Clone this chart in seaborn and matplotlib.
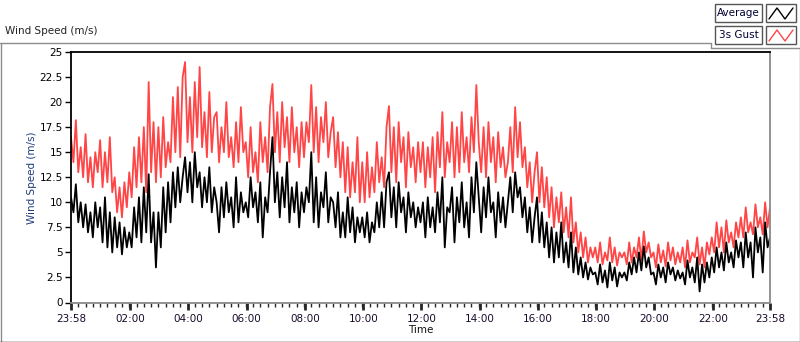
import numpy as np
import pandas as pd
import matplotlib
matplotlib.use('Agg')
import matplotlib.pyplot as plt
from matplotlib.lines import Line2D
from matplotlib.patches import Rectangle
from matplotlib.ticker import FuncFormatter
import seaborn as sns

# 5-minute samples, starting at 23:58 (one row per hour)
gust = [
    16.5, 14, 18.2, 13, 15.5, 12.5, 16.8, 12, 14.5, 11.5, 15, 13,
    16.2, 11.5, 15, 12, 16.5, 11, 12.5, 9, 11.5, 8.5, 12, 9.5,
    13, 10.5, 15.5, 11.5, 16.5, 12, 17.5, 11, 22, 13, 18, 12,
    17.5, 12.5, 18.5, 13.5, 16, 14, 20.5, 15, 21.5, 14.5, 22.5, 24,
    16, 20.5, 15, 22, 16.5, 23.5, 15.5, 19, 14.5, 21, 15, 18.5,
    19, 14, 17.5, 15, 20, 14.5, 16.5, 13.5, 18, 14, 19.5, 15,
    16, 12.5, 17.5, 13, 15, 12, 18, 14, 16.5, 13, 19.5, 21.8,
    15, 19, 14, 20, 15.5, 18.5, 14, 19.5, 15, 17.5, 13.5, 18,
    14.5, 18, 16, 21.7, 15, 19.5, 14, 18.5, 16, 20, 14.5, 17,
    18.5, 13.5, 17, 12.5, 16, 11, 15.5, 10.5, 14, 11, 16.5, 10,
    14, 10, 15, 10.5, 13.5, 11, 16, 12, 14.5, 11.5, 17.5, 19.6,
    13, 17.5, 12, 18, 14, 16.5, 11.5, 17, 13.5, 15.5, 12, 16,
    13, 16, 11.5, 15.5, 12.5, 16.5, 11, 17, 13.5, 19, 12.5, 16,
    14, 18, 12.5, 17.5, 13, 19, 14, 16.5, 13, 18.5, 15, 21.7,
    16, 13, 17.5, 12.5, 18, 14, 16.5, 12, 17, 13.5, 15.5, 12.5,
    14, 17.5, 13, 19.5, 14.5, 18, 13.5, 15.5, 11.5, 14, 10, 13,
    15, 10, 13.5, 9.5, 12.5, 8.5, 11.5, 7.5, 10.5, 8, 11, 7,
    9.5, 6.5, 10.5, 6, 8, 5, 7, 4.5, 6.5, 4, 5.5, 4.5,
    5.5, 4, 6, 3.8, 5, 4.2, 6.5, 4, 5.5, 3.7, 5, 4.5,
    5, 3.8, 6, 4, 5.5, 4.5, 6.5, 4.2, 7.1, 5, 6, 4.5,
    5, 3.5, 5.8, 4, 5.2, 3.6, 6, 4.2, 5.5, 3.8, 5, 4,
    5.5, 3.5, 6.2, 4, 5, 4.5, 6.5, 3.8, 5.5, 3.5, 6, 4.8,
    6.5, 5, 8, 5.5, 7.5, 5, 8.2, 6, 7, 5.5, 8, 6.5,
    8.5, 6.5, 9.5, 7, 8, 6.8, 9.8, 7.5, 8.5, 6.8, 10, 7.5,
    9.5,
]
average = [
    10.5, 9, 11.8, 8, 10, 7.5, 9.8, 7, 9, 6.5, 10, 7.5,
    9.5, 6, 10.5, 5.5, 9, 5, 8.5, 5.5, 8, 4.8, 7.5, 5.5,
    7, 5.5, 9.5, 6.5, 10.5, 6, 11.5, 7, 12.8, 6, 9, 3.5,
    9, 5.5, 11.5, 7, 12, 8, 13, 9.5, 13.5, 10, 12.5, 14.5,
    11, 14, 10, 15, 11.5, 13, 9.5, 12.5, 10, 13.5, 9, 11.5,
    10, 7, 11.5, 8.5, 12, 9, 10.5, 7.5, 12.5, 8, 11, 9,
    10, 8.5, 12.5, 9.5, 11, 8, 12, 6.5, 10.5, 9, 13, 16.5,
    10, 13, 8.5, 12.5, 9.5, 14, 8, 11.5, 9, 12, 7.5, 11,
    9, 11.5, 10, 15, 8, 12.5, 7.5, 11, 9.5, 13, 8, 10.5,
    10, 7.5, 11, 6.5, 9, 6.5, 10.5, 7, 9.5, 6, 8.5, 7,
    8.5, 6.5, 9, 6, 8, 7, 10, 7.5, 11, 7.5, 12, 13,
    8.5, 11.5, 7.5, 12, 9, 10.5, 7, 11, 8.5, 10, 7.5, 9.5,
    8, 10, 6.5, 10.5, 7.5, 9.5, 7, 11, 8, 12.5, 5.5, 9.5,
    9, 11.5, 6, 10.5, 8, 12, 7.5, 10, 6.5, 12.5, 9, 14,
    10.5, 7, 11.5, 8.5, 12.5, 9, 10, 6.5, 11, 8, 10.5, 7.5,
    10, 12.5, 9, 13, 10.5, 11.5, 8.5, 10.5, 7, 9.5, 6, 8.5,
    10.5, 6, 9, 5.5, 8, 4.5, 7.5, 4, 7, 4.5, 8, 4,
    6, 3.5, 7, 3, 5.5, 2.8, 4.5, 2.5, 4, 2.3, 3.5, 2.8,
    3, 1.8, 3.8, 2, 3.2, 1.5, 4, 2.2, 3.5, 1.6, 3, 2.5,
    3, 2.2, 4, 2.8, 4.5, 3, 5, 3.2, 5.6, 3.5, 4.5, 2.8,
    3, 1.8, 3.8, 2.5, 3.5, 2, 4, 2.8, 3.5, 2.2, 3.2, 2.4,
    3, 1.8, 4.2, 2.5, 3.5, 2, 4.5, 1.1, 3.8, 2, 4, 2.5,
    4.5, 3, 5.5, 3.5, 5, 3.2, 6, 4, 5, 3.5, 6.2, 4.5,
    6, 3.5, 7, 4.5, 6, 2.5, 7.5, 5, 6.5, 3, 8, 5.5,
    6.5,
]
series_names = ['3s Gust', 'Average']
series_colors = {'3s Gust': '#ff4545', 'Average': 'black'}
y_ticks = [0, 2.5, 5, 7.5, 10, 12.5, 15, 17.5, 20, 22.5, 25]

start = pd.Timestamp('2024-01-01 23:58')
times = pd.date_range(start, periods=len(gust), freq='5min')
end = times[-1]

df = pd.DataFrame({
    'Time': list(times) * 2,
    'Speed': gust + average,
    'Series': ['3s Gust'] * len(gust) + ['Average'] * len(average),
})

sns.set_style('white')
plt.rcParams['font.family'] = ['DejaVu Sans']
plt.rcParams['font.size'] = 7.5

W, H = 800, 342
fig = plt.figure(figsize=(W / 100, H / 100), dpi=100)
ax = fig.add_axes([71 / W, 1 - 302.5 / H, 699 / W, 250.5 / H])

sns.lineplot(data=df, x='Time', y='Speed', hue='Series', hue_order=series_names,
             palette=series_colors, linewidth=1.3, estimator=None, legend=False, ax=ax)

ax.set_xlim(start, end)
ax.set_ylim(0, 25)
ax.set_yticks(y_ticks)
ax.yaxis.set_major_formatter(FuncFormatter(lambda v, p: f'{v:g}'))

major = [start] + list(pd.date_range('2024-01-02 02:00', '2024-01-02 22:00', freq='2h')) + [end]
ax.set_xticks(major)
ax.set_xticklabels([t.strftime('%H:%M') for t in major], color='#1a0a2a')
ax.set_xticks(pd.date_range(start, end, freq='15min'), minor=True)

ax.tick_params(axis='y', direction='out', length=4, width=1, pad=2, left=True, colors='black')
ax.tick_params(axis='x', which='major', direction='out', length=5, width=2, pad=3, bottom=True)
ax.tick_params(axis='x', which='minor', direction='out', length=3, width=1, bottom=True)

ax.set_xlabel('Time', labelpad=1, color='#111111')
ax.set_ylabel('Wind Speed (m/s)', labelpad=2, color='#1f3d7a')

for side in ['left', 'top']:
    ax.spines[side].set_color('black')
    ax.spines[side].set_linewidth(1.3)
for side in ['right', 'bottom']:
    ax.spines[side].set_color('#8a8a8a')
    ax.spines[side].set_linewidth(1.3)


def fx(x):
    return x / W


def fy(y):
    return 1 - y / H


# outer panel frame
gray = '#8c8c8c'
frame = [
    ([0, 711], [42.5, 42.5], gray),
    ([711, 711], [42.5, 48], gray),
    ([711, 800], [48, 48], gray),
    ([0.5, 0.5], [42.5, 342], gray),
    ([799.5, 799.5], [48, 342], gray),
    ([0, 800], [341.5, 341.5], 'black'),
]
for xs, ys, c in frame:
    fig.add_artist(Line2D([fx(v) for v in xs], [fy(v) for v in ys], color=c, lw=1,
                          transform=fig.transFigure))

fig.text(fx(5), fy(31), 'Wind Speed (m/s)', ha='left', va='center', color='#222222')

# legend boxes
for i, name in enumerate(['Average', '3s Gust']):
    top = 4 + i * 22
    fig.add_artist(Rectangle((fx(715), fy(top + 18)), 47 / W, 18 / H, transform=fig.transFigure,
                             facecolor='white', edgecolor='#555555', lw=1))
    fig.text(fx(738.5), fy(top + 9), name, ha='center', va='center', color='#000033')
    fig.add_artist(Rectangle((fx(766), fy(top + 18)), 30 / W, 18 / H, transform=fig.transFigure,
                             facecolor='white', edgecolor='#555555', lw=1))
    zx = [769, 777, 785, 793]
    zy = [top + 15, top + 4, top + 15, top + 4]
    fig.add_artist(Line2D([fx(v) for v in zx], [fy(v) for v in zy], lw=1,
                          color=series_colors[name], transform=fig.transFigure))

fig.savefig('out.png', dpi=100)
